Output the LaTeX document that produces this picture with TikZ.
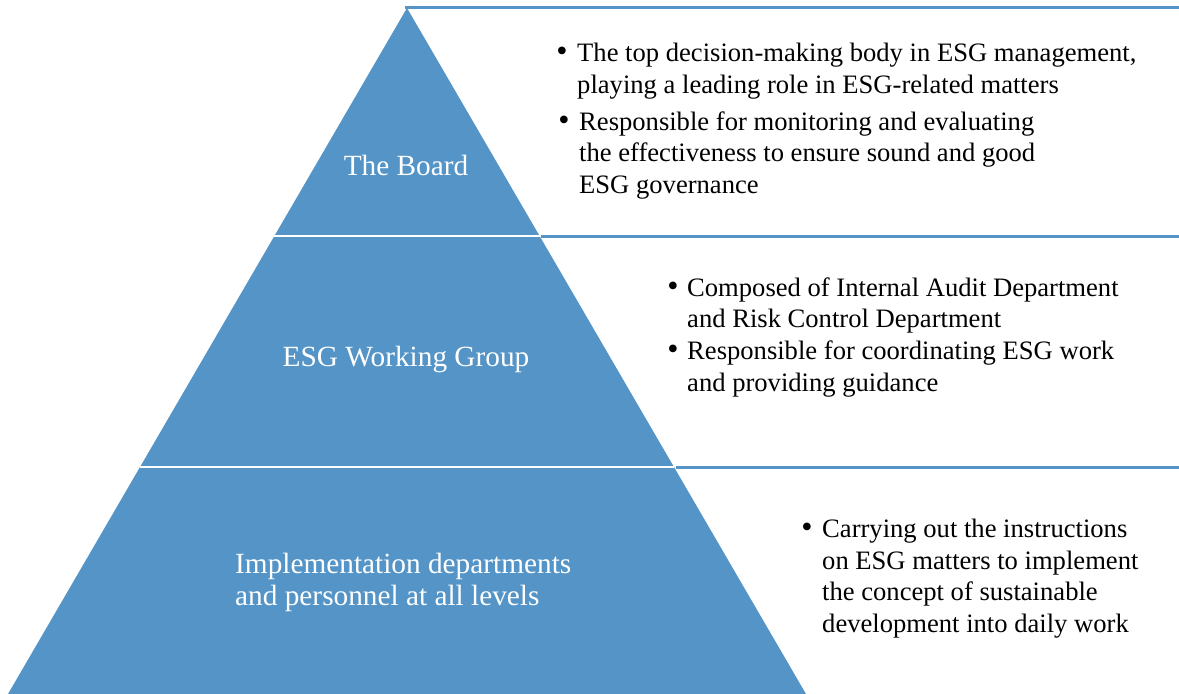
\documentclass[tikz,border=0pt]{standalone}
\usepackage{fontspec}
\setmainfont{Liberation Serif}
\definecolor{tierblue}{RGB}{84,148,199}
\begin{document}
\begin{tikzpicture}[x=1pt,y=-1pt,
  tierlabel/.style={text=white,font=\fontsize{29.3}{32}\selectfont,inner sep=0pt},
  note/.style={text=black,font=\fontsize{26.6}{30}\selectfont,inner sep=0pt,anchor=base west},
  dot/.style={text=black,font=\fontsize{32}{30}\selectfont,inner sep=0pt,anchor=base},
  rule/.style={draw=tierblue,line width=3pt},
  gap/.style={draw=white,line width=2.2pt}]
\useasboundingbox (0,0) rectangle (1179,694);
% pyramid corners
\coordinate (apex) at (407,8);
\coordinate (bl) at (8,694);
\coordinate (br) at (806,694);
\fill[tierblue] (apex) -- (br) -- (bl) -- cycle;
% tier boundaries on the pyramid edges
\coordinate (l1) at (274.4,236);
\coordinate (r1) at (539.6,236);
\coordinate (l2) at (140.0,467);
\coordinate (r2) at (674.0,467);
\coordinate (e0) at (1179,7.5);
\coordinate (e1) at (1179,236);
\coordinate (e2) at (1179,467);
\draw[gap] (l1) -- (r1);
\draw[gap] (l2) -- (r2);
% leader rules to the right
\draw[rule] (405,7.5) -- (e0);
\draw[rule] (r1) ++(1.5,0) -- (e1);
\draw[rule] (r2) ++(1.5,0) -- (e2);
% tier labels
\node[tierlabel,anchor=base] (board) at (406,175) {The Board};
\node[tierlabel,anchor=base] (wg) at (406,366) {ESG Working Group};
\node[tierlabel,anchor=base west] (impl1) at (235,573) {Implementation departments};
\node[tierlabel,anchor=base west] (impl2) at (235,605) {and personnel at all levels};
% notes for the board
\node[dot] (b1) at (562,61) {•};
\node[note] (t1a) at (577,61) {The top decision-making body in ESG management,};
\node[note] (t1b) at (577,93) {playing a leading role in ESG-related matters};
\node[dot] (b2) at (564,130) {•};
\node[note] (t2a) at (579,130) {Responsible for monitoring and evaluating};
\node[note] (t2b) at (579,161) {the effectiveness to ensure sound and good};
\node[note] (t2c) at (579,193) {ESG governance};
% notes for the working group
\node[dot] (b3) at (673,296) {•};
\node[note] (w1a) at (687,296) {Composed of Internal Audit Department};
\node[note] (w1b) at (687,327) {and Risk Control Department};
\node[dot] (b4) at (673,359) {•};
\node[note] (w2a) at (687,359) {Responsible for coordinating ESG work};
\node[note] (w2b) at (687,391) {and providing guidance};
% notes for implementation
\node[dot] (b5) at (807,537) {•};
\node[note] (i1a) at (822,537) {Carrying out the instructions};
\node[note] (i1b) at (822,569) {on ESG matters to implement};
\node[note] (i1c) at (822,600) {the concept of sustainable};
\node[note] (i1d) at (822,632) {development into daily work};
\end{tikzpicture}
\end{document}
